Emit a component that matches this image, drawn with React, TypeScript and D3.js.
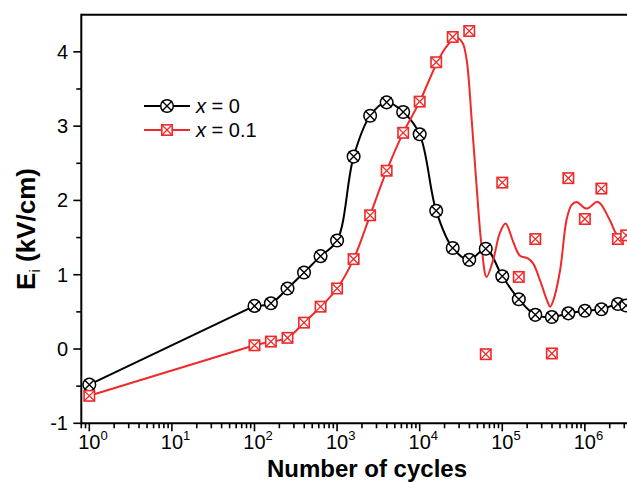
import React from 'react';
import * as d3 from 'd3';

// Data
const cycles = [1, 100, 158, 251, 398, 631, 1000, 1585, 2512, 3981, 6310, 10000, 15849, 25119, 39811, 63096, 100000, 158489, 251189, 398107, 630957, 1000000, 1584893, 2511886, 3162278];
const eiX0 = [-0.48, 0.58, 0.615, 0.815, 1.03, 1.25, 1.46, 2.59, 3.14, 3.32, 3.19, 2.89, 1.86, 1.36, 1.2, 1.35, 0.98, 0.67, 0.46, 0.43, 0.48, 0.515, 0.535, 0.605, 0.585];
const eiX01 = [-0.63, 0.05, 0.1, 0.15, 0.355, 0.57, 0.815, 1.21, 1.8, 2.4, 2.91, 3.33, 3.86, 4.2, 4.28, -0.07, 2.24, 0.97, 1.48, -0.06, 2.3, 1.75, 2.16, 1.48, 1.53];

// Smoothed red curve
const redFitCycles = [100, 158, 251, 398, 631, 1000, 1585, 2512, 3981, 6310, 10000, 15850, 21380, 28180, 33110, 37150, 42660, 48980, 56230, 64570, 77620, 93330, 109600, 134900, 162200, 204200, 237100, 285100, 346700, 380200, 416900, 501200, 602600, 691800, 794300, 1047000, 1445000, 1995000, 2512000, 3162000];
const redFitEi = [0.05, 0.1, 0.15, 0.355, 0.565, 0.815, 1.21, 1.8, 2.4, 2.91, 3.33, 3.83, 4.08, 4.19, 4.12, 3.88, 3.08, 2.18, 1.38, 0.97, 1.2, 1.56, 1.69, 1.45, 1.26, 1.22, 1.15, 0.93, 0.66, 0.57, 0.66, 1.06, 1.75, 1.94, 1.98, 1.89, 1.98, 1.74, 1.53, 1.55];

const xTickExponents = [0, 1, 2, 3, 4, 5, 6];
const yTickValues = [-1, 0, 1, 2, 3, 4];
const yMinorValues = [-0.5, 0.5, 1.5, 2.5, 3.5];
const legendLabels = ['0', '0.1'];

const FONT = '"Liberation Sans", Arial, Helvetica, sans-serif';
const BLACK = '#000000';
const RED = '#ee2a2a';

function CircleX({ cx, cy }: { cx: number; cy: number }) {
  const r = 6.3;
  const d = 5;
  return (
    <g>
      <circle cx={cx} cy={cy} r={r} fill="white" stroke={BLACK} strokeWidth={1.5} />
      <path d={`M${cx - d},${cy - d}L${cx + d},${cy + d}M${cx - d},${cy + d}L${cx + d},${cy - d}`} stroke={BLACK} strokeWidth={1.4} />
    </g>
  );
}

function SquareX({ cx, cy }: { cx: number; cy: number }) {
  const h = 5.2;
  return (
    <g>
      <rect x={cx - h} y={cy - h} width={2 * h} height={2 * h} fill="white" stroke={RED} strokeWidth={1.6} />
      <path d={`M${cx - h},${cy - h}L${cx + h},${cy + h}M${cx - h},${cy + h}L${cx + h},${cy - h}`} stroke={RED} strokeWidth={1.3} />
    </g>
  );
}

export default function App() {
  const W = 627;
  const H = 482;
  const x = d3.scaleLog().domain([0.8, 4.65e6]).range([81.3, 640]);
  const y = d3.scaleLinear().domain([-1, 4.5]).range([423.3, 14.7]);
  const x0 = x.range()[0];
  const yTop = y.range()[1];
  const yBot = y.range()[0];

  const allTicks = x.ticks();
  const isMajor = (v: number) => Math.abs(Math.log10(v) - Math.round(Math.log10(v))) < 1e-9;

  const linear = d3.line<[number, number]>().x(d => x(d[0])).y(d => y(d[1]));
  const smooth = d3
    .line<[number, number]>()
    .x(d => x(d[0]))
    .y(d => y(d[1]))
    .curve(d3.curveCatmullRom.alpha(0.5));

  const blackPts: [number, number][] = cycles.map((c, i) => [c, eiX0[i]]);
  const redPts: [number, number][] = cycles.map((c, i) => [c, eiX01[i]]);
  const redFit: [number, number][] = redFitCycles.map((c, i) => [c, redFitEi[i]]);

  const tickFs = 20;

  return (
    <svg width={W} height={H} style={{ position: 'absolute', left: 0, top: 0, background: 'white' }} fontFamily={FONT}>
      <rect x={0} y={0} width={W} height={H} fill="white" />
      {/* curves */}
      <path d={linear(blackPts.slice(0, 2)) || ''} fill="none" stroke={BLACK} strokeWidth={2} />
      <path d={smooth(blackPts.slice(1)) || ''} fill="none" stroke={BLACK} strokeWidth={2} />
      <path d={linear(redPts.slice(0, 2)) || ''} fill="none" stroke={RED} strokeWidth={2} />
      <path d={smooth(redFit) || ''} fill="none" stroke={RED} strokeWidth={2} />

      {/* markers */}
      {blackPts.map((p, i) => (
        <CircleX key={'b' + i} cx={x(p[0])} cy={y(p[1])} />
      ))}
      {redPts.map((p, i) => (
        <SquareX key={'r' + i} cx={x(p[0])} cy={y(p[1])} />
      ))}

      {/* axes frame */}
      <line x1={x0} x2={W + 5} y1={yTop} y2={yTop} stroke={BLACK} strokeWidth={2} />
      <line x1={x0} x2={W + 5} y1={yBot} y2={yBot} stroke={BLACK} strokeWidth={2} />
      <line x1={x0} x2={x0} y1={yTop - 1} y2={yBot + 1} stroke={BLACK} strokeWidth={2} />

      {/* x ticks */}
      {allTicks.map((v, i) => {
        const px = x(v);
        const major = isMajor(v);
        return <line key={'xt' + i} x1={px} x2={px} y1={yBot} y2={yBot + (major ? 8 : 5)} stroke={BLACK} strokeWidth={1.6} />;
      })}
      {xTickExponents.map(e => {
        const px = x(Math.pow(10, e));
        return (
          <text key={'xl' + e} x={px - 0.556 * tickFs} y={449} fontSize={tickFs} fill={BLACK}>
            <tspan>10</tspan>
            <tspan dy={-9} fontSize={13}>{e}</tspan>
          </text>
        );
      })}

      {/* y ticks */}
      {yTickValues.map(v => (
        <g key={'yt' + v}>
          <line x1={x0 - 8} x2={x0} y1={y(v)} y2={y(v)} stroke={BLACK} strokeWidth={1.6} />
          <text x={68} y={y(v) + 7} fontSize={tickFs} textAnchor="end" fill={BLACK}>
            {v}
          </text>
        </g>
      ))}
      {yMinorValues.map(v => (
        <line key={'ym' + v} x1={x0 - 5} x2={x0} y1={y(v)} y2={y(v)} stroke={BLACK} strokeWidth={1.6} />
      ))}

      {/* axis titles */}
      <text x={367} y={477} fontSize={24} fontWeight="bold" textAnchor="middle" fill={BLACK}>
        Number of cycles
      </text>
      <text transform="translate(35,229) rotate(-90)" fontSize={26} fontWeight="bold" textAnchor="middle" fill={BLACK}>
        <tspan>E</tspan>
        <tspan fontSize={15} fontWeight="normal" dy={5}>i</tspan>
        <tspan dy={-5}> (kV/cm)</tspan>
      </text>

      {/* legend */}
      {legendLabels.map((lab, i) => {
        const ly = 106 + i * 24;
        const color = i === 0 ? BLACK : RED;
        return (
          <g key={'lg' + i}>
            <line x1={144} x2={190} y1={ly} y2={ly} stroke={color} strokeWidth={2} />
            {i === 0 ? <CircleX cx={167} cy={ly} /> : <SquareX cx={167} cy={ly} />}
            <text x={196} y={ly + 7} fontSize={20} fill={BLACK}>
              <tspan fontStyle="italic">x</tspan>
              <tspan> = {lab}</tspan>
            </text>
          </g>
        );
      })}
    </svg>
  );
}
